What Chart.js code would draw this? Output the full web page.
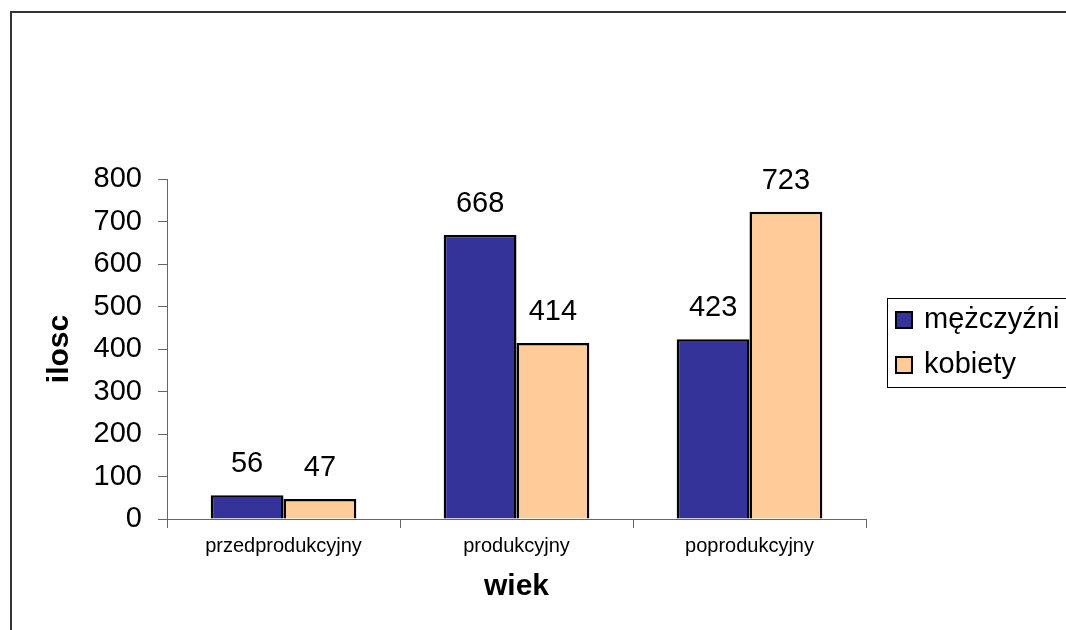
<!DOCTYPE html>
<html>
<head>
<meta charset="utf-8">
<script src="https://cdn.jsdelivr.net/npm/chart.js@4/dist/chart.umd.min.js"></script>
<style>
html,body{margin:0;padding:0;background:#fff;}
#wrap{width:1066px;height:630px;position:relative;}
</style>
</head>
<body>
<div id="wrap"><canvas id="c" width="1066" height="630"></canvas></div>
<script>
const categories = ['przedprodukcyjny', 'produkcyjny', 'poprodukcyjny'];
const men = [56, 668, 423];
const women = [47, 414, 723];
const seriesNames = ['mężczyźni', 'kobiety'];
const yTicks = [0, 100, 200, 300, 400, 500, 600, 700, 800];

const FONT = 'Arial, "Liberation Sans", sans-serif';

const framePlugin = {
  id: 'frame',
  afterDraw(chart) {
    const ctx = chart.ctx;
    ctx.save();
    ctx.strokeStyle = '#333';
    ctx.lineWidth = 2;
    ctx.strokeRect(11, 12, 1070, 640);
    ctx.restore();
  }
};

const labelPlugin = {
  id: 'valueLabels',
  afterDatasetsDraw(chart) {
    const ctx = chart.ctx;
    ctx.save();
    ctx.font = '29px ' + FONT;
    ctx.fillStyle = '#000';
    ctx.textAlign = 'center';
    ctx.textBaseline = 'middle';
    chart.data.datasets.forEach((ds, di) => {
      const meta = chart.getDatasetMeta(di);
      meta.data.forEach((bar, i) => {
        ctx.fillText(String(ds.data[i]), bar.x, bar.y - 31);
      });
    });
    ctx.restore();
  }
};

const legendPlugin = {
  id: 'boxLegend',
  afterDraw(chart) {
    const ctx = chart.ctx;
    ctx.save();
    ctx.strokeStyle = '#000';
    ctx.lineWidth = 1;
    ctx.strokeRect(887.5, 298.5, 200, 89);
    ctx.font = '29px ' + FONT;
    ctx.textBaseline = 'middle';
    ctx.textAlign = 'left';
    chart.data.datasets.forEach((ds, i) => {
      const cy = 320 + i * 45;
      ctx.fillStyle = ds.backgroundColor;
      ctx.fillRect(896, cy - 8, 16, 16);
      ctx.strokeStyle = '#000';
      ctx.lineWidth = 2;
      ctx.strokeRect(896, cy - 8, 16, 16);
      ctx.fillStyle = '#000';
      ctx.fillText(ds.label, 924, cy);
    });
    ctx.restore();
  }
};

new Chart(document.getElementById('c'), {
  type: 'bar',
  data: {
    labels: categories,
    datasets: [
      { label: seriesNames[0], data: men, backgroundColor: '#333399', borderColor: '#000', borderWidth: 2.5 },
      { label: seriesNames[1], data: women, backgroundColor: '#FFCC99', borderColor: '#000', borderWidth: 2.5 }
    ]
  },
  options: {
    responsive: false,
    animation: false,
    devicePixelRatio: 1,
    layout: { padding: { top: 179, right: 200, left: 0, bottom: 0 } },
    plugins: { legend: { display: false }, tooltip: { enabled: false } },
    datasets: { bar: { barPercentage: 1, categoryPercentage: 0.625 } },
    scales: {
      x: {
        afterFit(s) { s.height = 111; },
        grid: { offset: true, drawOnChartArea: false, drawTicks: true, tickLength: 9, color: '#666', lineWidth: 1 },
        border: { color: '#666', width: 1 },
        ticks: { font: { family: FONT, size: 20 }, color: '#000', padding: 6, maxRotation: 0 },
        title: { display: true, text: 'wiek', font: { family: FONT, size: 30, weight: 'bold' }, color: '#000', padding: { top: 0, bottom: 25 } }
      },
      y: {
        min: 0, max: 800,
        afterFit(s) { s.width = 167; },
        afterBuildTicks(s) { s.ticks = yTicks.map(v => ({ value: v })); },
        grid: { drawOnChartArea: false, drawTicks: true, tickLength: 9, color: '#666', lineWidth: 1 },
        border: { color: '#666', width: 1 },
        ticks: { font: { family: FONT, size: 29 }, color: '#000', padding: 16 },
        title: { display: true, text: 'ilosc', font: { family: FONT, size: 30, weight: 'bold' }, color: '#000', padding: { top: 42, bottom: 0 } }
      }
    }
  },
  plugins: [framePlugin, labelPlugin, legendPlugin]
});
</script>
</body>
</html>
